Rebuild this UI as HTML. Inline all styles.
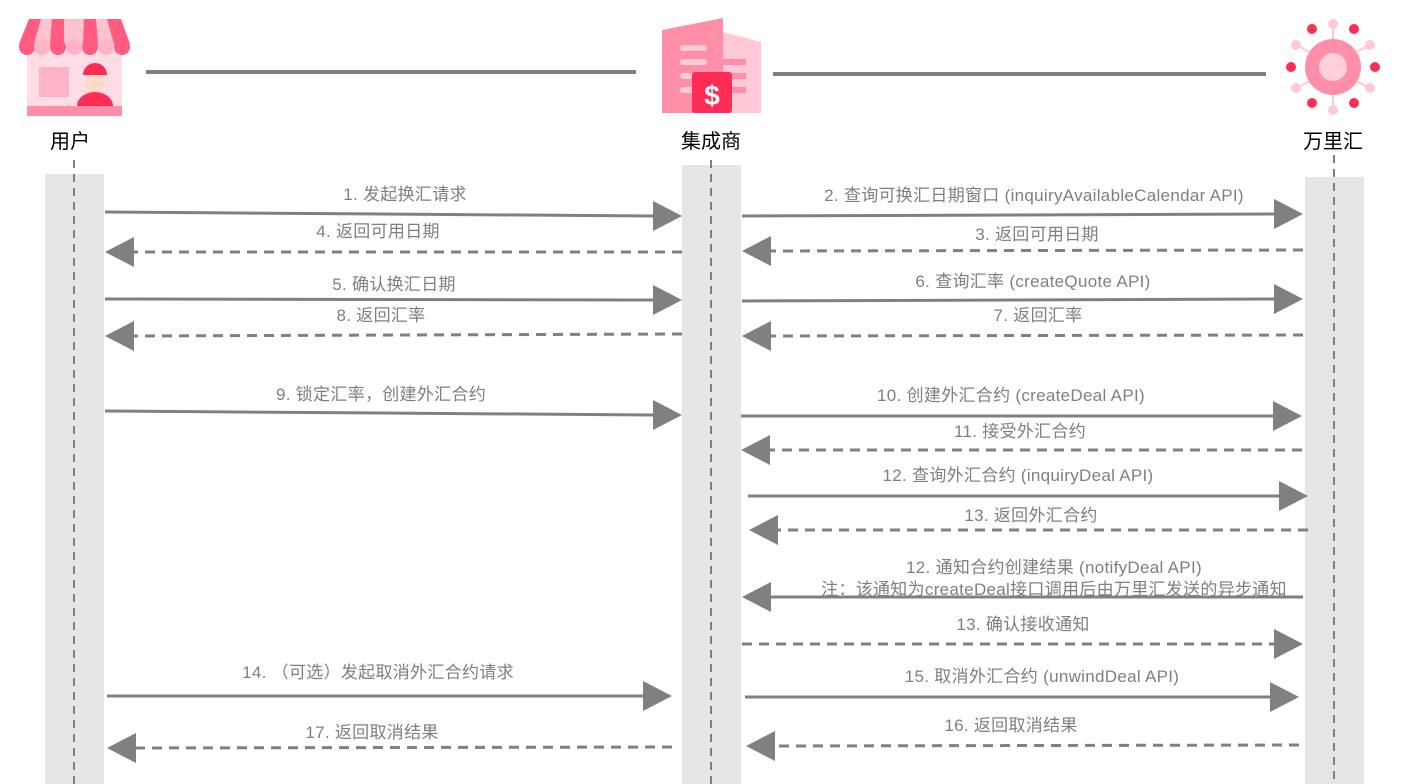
<!DOCTYPE html>
<html><head><meta charset="utf-8"><style>
html,body{margin:0;padding:0;background:#fff;width:1401px;height:784px;overflow:hidden}
text{font-family:"Liberation Sans","Noto Sans CJK SC",sans-serif}
.l{font-size:17px;fill:#7f7f7f;text-anchor:middle;letter-spacing:0.3px}
.h{font-size:20px;fill:#000;text-anchor:middle}
.s{stroke:#808080;stroke-width:3;fill:none}
.d{stroke:#808080;stroke-width:3;fill:none;stroke-dasharray:10 7}
.a{fill:#808080}
</style></head><body>
<svg width="1401" height="784" viewBox="0 0 1401 784" xmlns="http://www.w3.org/2000/svg">
<rect x="45" y="174" width="59" height="610" fill="#e6e6e6"/>
<rect x="682" y="165" width="59" height="619" fill="#e6e6e6"/>
<rect x="1305" y="177" width="59" height="607" fill="#e6e6e6"/>
<line x1="74" y1="160" x2="74" y2="784" stroke="#808080" stroke-width="2" stroke-dasharray="8 6"/>
<line x1="711" y1="160" x2="711" y2="784" stroke="#808080" stroke-width="2" stroke-dasharray="8 6"/>
<line x1="1334" y1="155" x2="1334" y2="784" stroke="#808080" stroke-width="2" stroke-dasharray="8 6"/>
<line x1="146" y1="72" x2="636" y2="72" stroke="#808080" stroke-width="4"/>
<line x1="773" y1="74" x2="1266" y2="74" stroke="#808080" stroke-width="4"/>
<!-- user icon -->
<g>
<rect x="27" y="50" width="95" height="66" fill="#ffdde6"/>
<rect x="39" y="67" width="30" height="30" fill="#ffb3c6"/>
<rect x="27" y="106" width="95" height="10" fill="#ff8fa8"/>
<polygon points="29,19 121,19 130,44 19,44" fill="#ffc2d1"/>
<polygon points="29,19 41,19 34,44 19,44" fill="#ff5c80"/>
<polygon points="52,19 64,19 64,44 50,44" fill="#ff5c80"/>
<polygon points="84,19 96,19 98,44 83,44" fill="#ff5c80"/>
<polygon points="107,19 121,19 130,44 114,44" fill="#ff5c80"/>
<circle cx="27" cy="47" r="8" fill="#ff5c80"/>
<circle cx="42" cy="47" r="8" fill="#ffb3c6"/>
<circle cx="58" cy="47" r="8" fill="#ff5c80"/>
<circle cx="74" cy="47" r="8" fill="#ffb3c6"/>
<circle cx="90" cy="47" r="8" fill="#ff5c80"/>
<circle cx="106" cy="47" r="8" fill="#ffb3c6"/>
<circle cx="122" cy="47" r="8" fill="#ff5c80"/>
<circle cx="95" cy="83" r="10" fill="#ffd9c7"/>
<path d="M83,75 a12,12 0 0 1 24,0 z" fill="#ff2d55"/>
<path d="M77,106 a18,14 0 0 1 36,0 z" fill="#ff2d55"/>
</g>
<text class="h" x="70" y="148">用户</text>
<g>
<polygon points="723,18 723,113 662,113 662,30" fill="#ff8fa8"/>
<polygon points="723,32 761,42 761,113 723,113" fill="#ffc9d6"/>
<rect x="680" y="45" width="27" height="6" rx="3" fill="#ffc9d6"/>
<rect x="680" y="59" width="27" height="6" rx="3" fill="#ffc9d6"/>
<rect x="680" y="73" width="27" height="6" rx="3" fill="#ffc9d6"/>
<rect x="680" y="87" width="27" height="6" rx="3" fill="#ffc9d6"/>
<rect x="723" y="59" width="23" height="6" fill="#ff8fa8"/>
<rect x="723" y="73" width="23" height="6" fill="#ff8fa8"/>
<rect x="723" y="87" width="23" height="6" fill="#ff8fa8"/>
<rect x="692" y="72" width="40" height="41" rx="3" fill="#ff2d55"/>
<text x="712" y="105" style="font-size:28px;font-weight:bold;fill:#fff;text-anchor:middle">$</text>
</g>
<text class="h" x="711" y="148">集成商</text>
<g>
<g stroke="#ffc9d6" stroke-width="2">
<line x1="1333" y1="24" x2="1333" y2="40"/><line x1="1333" y1="94" x2="1333" y2="110"/>
<line x1="1296" y1="45" x2="1310" y2="52"/><line x1="1370" y1="45" x2="1356" y2="52"/>
<line x1="1296" y1="88" x2="1310" y2="81"/><line x1="1370" y1="88" x2="1356" y2="81"/>
</g>
<circle cx="1333" cy="24" r="5" fill="#ffc9d6"/><circle cx="1333" cy="110" r="5" fill="#ffc9d6"/>
<circle cx="1296" cy="45" r="5" fill="#ffc9d6"/><circle cx="1370" cy="45" r="5" fill="#ffc9d6"/>
<circle cx="1296" cy="88" r="5" fill="#ffc9d6"/><circle cx="1370" cy="88" r="5" fill="#ffc9d6"/>
<circle cx="1312" cy="29" r="5" fill="#ff2d55"/><circle cx="1354" cy="29" r="5" fill="#ff2d55"/>
<circle cx="1312" cy="103" r="5" fill="#ff2d55"/><circle cx="1354" cy="103" r="5" fill="#ff2d55"/>
<circle cx="1291" cy="67" r="5" fill="#ff2d55"/><circle cx="1375" cy="67" r="5" fill="#ff2d55"/>
<circle cx="1333" cy="67" r="28" fill="#ff8fa8"/>
<circle cx="1333" cy="67" r="14" fill="#ffd0dc"/>
</g>
<text class="h" x="1333" y="148">万里汇</text>

<line class="s" x1="105" y1="212" x2="654" y2="216"/><polygon class="a" points="682,216 653,201 653,231"/>
<text class="l" x="405" y="200">1. 发起换汇请求</text>
<line class="d" x1="682" y1="252" x2="133" y2="252"/><polygon class="a" points="105,252 134,237 134,267"/>
<text class="l" x="378" y="237">4. 返回可用日期</text>
<line class="s" x1="105" y1="299" x2="654" y2="300"/><polygon class="a" points="682,300 653,285 653,315"/>
<text class="l" x="394" y="290">5. 确认换汇日期</text>
<line class="d" x1="682" y1="334" x2="133" y2="336"/><polygon class="a" points="105,336 134,321 134,351"/>
<text class="l" x="381" y="321">8. 返回汇率</text>
<line class="s" x1="105" y1="411" x2="654" y2="415"/><polygon class="a" points="682,415 653,400 653,430"/>
<text class="l" x="381" y="400">9. 锁定汇率，创建外汇合约</text>
<line class="s" x1="107" y1="696" x2="644" y2="696"/><polygon class="a" points="672,696 643,681 643,711"/>
<text class="l" x="378" y="678">14. （可选）发起取消外汇合约请求</text>
<line class="d" x1="672" y1="747" x2="135" y2="748"/><polygon class="a" points="107,748 136,733 136,763"/>
<text class="l" x="372" y="738">17. 返回取消结果</text>

<line class="s" x1="742" y1="216" x2="1275" y2="214"/><polygon class="a" points="1303,214 1274,199 1274,229"/>
<text class="l" x="1034" y="201">2. 查询可换汇日期窗口 (inquiryAvailableCalendar API)</text>
<line class="d" x1="1303" y1="250" x2="770" y2="251"/><polygon class="a" points="742,251 771,236 771,266"/>
<text class="l" x="1037" y="240">3. 返回可用日期</text>
<line class="s" x1="742" y1="301" x2="1275" y2="299"/><polygon class="a" points="1303,299 1274,284 1274,314"/>
<text class="l" x="1033" y="287">6. 查询汇率 (createQuote API)</text>
<line class="d" x1="1303" y1="335" x2="770" y2="336"/><polygon class="a" points="742,336 771,321 771,351"/>
<text class="l" x="1038" y="321">7. 返回汇率</text>
<line class="s" x1="741" y1="416" x2="1274" y2="416"/><polygon class="a" points="1302,416 1273,401 1273,431"/>
<text class="l" x="1011" y="401">10. 创建外汇合约 (createDeal API)</text>
<line class="d" x1="1302" y1="450" x2="769" y2="450"/><polygon class="a" points="741,450 770,435 770,465"/>
<text class="l" x="1020" y="437">11. 接受外汇合约</text>
<line class="s" x1="748" y1="496" x2="1280" y2="496"/><polygon class="a" points="1308,496 1279,481 1279,511"/>
<text class="l" x="1018" y="481">12. 查询外汇合约 (inquiryDeal API)</text>
<line class="d" x1="1308" y1="530" x2="777" y2="530"/><polygon class="a" points="749,530 778,515 778,545"/>
<text class="l" x="1031" y="521">13. 返回外汇合约</text>
<line class="s" x1="1303" y1="597" x2="770" y2="597"/><polygon class="a" points="742,597 771,582 771,612"/>
<text class="l" x="1054" y="573">12. 通知合约创建结果 (notifyDeal API)</text>
<text class="l" x="1054" y="595">注：该通知为createDeal接口调用后由万里汇发送的异步通知</text>
<line class="d" x1="742" y1="644" x2="1275" y2="644"/><polygon class="a" points="1303,644 1274,629 1274,659"/>
<text class="l" x="1023" y="630">13. 确认接收通知</text>
<line class="s" x1="745" y1="697" x2="1271" y2="697"/><polygon class="a" points="1299,697 1270,682 1270,712"/>
<text class="l" x="1042" y="682">15. 取消外汇合约 (unwindDeal API)</text>
<line class="d" x1="1299" y1="745" x2="774" y2="746"/><polygon class="a" points="746,746 775,731 775,761"/>
<text class="l" x="1011" y="731">16. 返回取消结果</text>
</svg>
</body></html>
